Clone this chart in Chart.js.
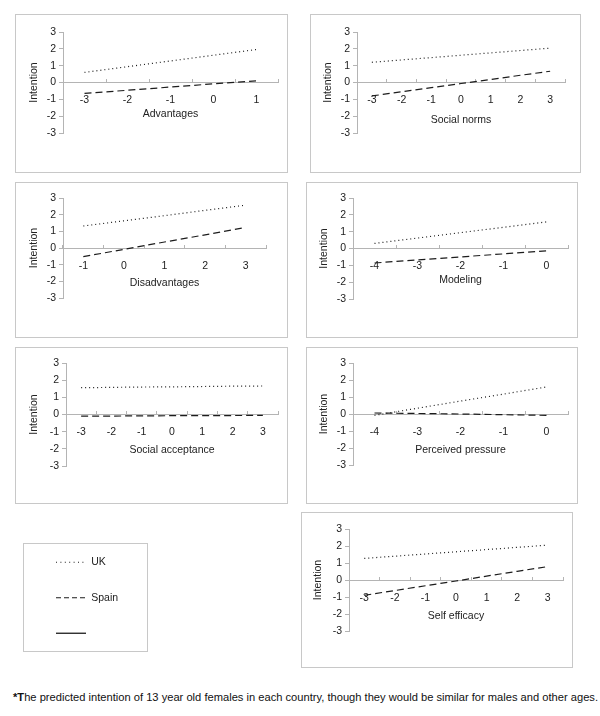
<!DOCTYPE html>
<html>
<head>
<meta charset="utf-8">
<script src="https://cdn.jsdelivr.net/npm/chart.js@4/dist/chart.umd.min.js"></script>
<style>
  body { margin: 0; background: #fff; font-family: "Liberation Sans", Arial, sans-serif; }
  .panel { position: absolute; border: 1px solid #c8c8c8; box-sizing: border-box; }
  .panel canvas { position: absolute; left: -1px; top: -1px; }
  #legendCanvas { position: absolute; }
  #note { position: absolute; left: 13px; top: 690px; font-size: 11.15px; line-height: 14px; color: #111; white-space: nowrap; }
</style>
</head>
<body>
<div id="note"><b>*T</b>he predicted intention of 13 year old females in each country, though they would be similar for males and other ages.</div>
<script>
// values
const advantagesTicks = ['-3', '-2', '-1', '0', '1'];
const advantagesUK = [0.6, 0.94, 1.28, 1.62, 1.96];
const advantagesSpain = [-0.65, -0.46, -0.27, -0.08, 0.1];

const socialNormsTicks = ['-3', '-2', '-1', '0', '1', '2', '3'];
const socialNormsUK = [1.2, 1.34, 1.48, 1.62, 1.76, 1.9, 2.04];
const socialNormsSpain = [-0.8, -0.55, -0.31, -0.06, 0.18, 0.43, 0.67];

const disadvantagesTicks = ['-1', '0', '1', '2', '3'];
const disadvantagesUK = [1.32, 1.63, 1.94, 2.26, 2.57];
const disadvantagesSpain = [-0.52, -0.08, 0.36, 0.79, 1.23];

const modelingTicks = ['-4', '-3', '-2', '-1', '0'];
const modelingUK = [0.3, 0.62, 0.94, 1.26, 1.58];
const modelingSpain = [-0.86, -0.68, -0.5, -0.32, -0.14];

const acceptanceTicks = ['-3', '-2', '-1', '0', '1', '2', '3'];
const acceptanceUK = [1.56, 1.58, 1.6, 1.61, 1.63, 1.65, 1.66];
const acceptanceSpain = [-0.1, -0.09, -0.08, -0.07, -0.06, -0.06, -0.05];

const pressureTicks = ['-4', '-3', '-2', '-1', '0'];
const pressureUK = [-0.08, 0.34, 0.76, 1.17, 1.59];
const pressureSpain = [0.06, 0.03, 0, -0.04, -0.08];

const efficacyTicks = ['-3', '-2', '-1', '0', '1', '2', '3'];
const efficacyUK = [1.27, 1.4, 1.53, 1.66, 1.79, 1.92, 2.05];
const efficacySpain = [-0.9, -0.62, -0.34, -0.06, 0.23, 0.51, 0.79];

const seriesNames = ['UK', 'Spain', ''];

const axisGrey = '#b4b4b4';
const ink = '#1c1c1c';
const textColor = '#222';
const font = { family: '"Liberation Sans", Arial, sans-serif', size: 10.5 };
const tickPad = 15.7;
// where chart.js puts the x title centre (relative to the y=0 line) when title padding is 0
const titleBase = -4 + 12.6 + 12.6 + 2 * tickPad - 6.3;

// box = [left, top, width, height], pad = [yAxisWidth, top, right, bottom]
const panels = [
  { title: 'Advantages', ticks: advantagesTicks, uk: advantagesUK, spain: advantagesSpain, box: [15, 14, 273, 159], pad: [48, 18, 10, 40], yTitle: 19, xTitle: 32 },
  { title: 'Social norms', ticks: socialNormsTicks, uk: socialNormsUK, spain: socialNormsSpain, box: [310, 14, 271, 159], pad: [47, 18, 16, 40], yTitle: 18, xTitle: 38 },
  { title: 'Disadvantages', ticks: disadvantagesTicks, uk: disadvantagesUK, spain: disadvantagesSpain, box: [15, 182, 273, 156], pad: [48, 16, 22, 40], yTitle: 19, xTitle: 35 },
  { title: 'Modeling', ticks: modelingTicks, uk: modelingUK, spain: modelingSpain, box: [306, 182, 272, 156], pad: [47, 16, 10, 39], yTitle: 18, xTitle: 32 },
  { title: 'Social acceptance', ticks: acceptanceTicks, uk: acceptanceUK, spain: acceptanceSpain, box: [15, 347, 273, 157], pad: [51, 16, 10, 38], yTitle: 19, xTitle: 36 },
  { title: 'Perceived pressure', ticks: pressureTicks, uk: pressureUK, spain: pressureSpain, box: [306, 347, 272, 157], pad: [47, 16, 10, 39], yTitle: 18, xTitle: 36 },
  { title: 'Self efficacy', ticks: efficacyTicks, uk: efficacyUK, spain: efficacySpain, box: [301, 512, 272, 156], pad: [48, 17, 10, 37], yTitle: 17, xTitle: 36 }
];

function makePanel(p) {
  const box = document.createElement('div');
  box.className = 'panel';
  box.style.left = p.box[0] + 'px';
  box.style.top = p.box[1] + 'px';
  box.style.width = p.box[2] + 'px';
  box.style.height = p.box[3] + 'px';
  const cv = document.createElement('canvas');
  cv.width = p.box[2];
  cv.height = p.box[3];
  box.appendChild(cv);
  document.body.appendChild(box);

  new Chart(cv, {
    type: 'line',
    data: {
      labels: p.ticks,
      datasets: [
        { label: seriesNames[0], data: p.uk, borderColor: ink, borderWidth: 1.2, borderDash: [1, 3], pointRadius: 0, tension: 0, fill: false },
        { label: seriesNames[1], data: p.spain, borderColor: ink, borderWidth: 1.2, borderDash: [7, 4], pointRadius: 0, tension: 0, fill: false }
      ]
    },
    options: {
      responsive: false,
      animation: false,
      events: [],
      layout: { padding: { left: 0, top: p.pad[1], right: p.pad[2], bottom: p.pad[3] } },
      plugins: { legend: { display: false }, tooltip: { enabled: false } },
      scales: {
        x: {
          type: 'category',
          offset: true,
          position: { y: 0 },
          grid: { offset: true, drawOnChartArea: false, tickLength: -4, color: axisGrey },
          border: { color: axisGrey },
          ticks: { padding: tickPad, color: textColor, font: font, maxRotation: 0, autoSkip: false },
          title: { display: true, text: p.title, color: textColor, font: font, padding: { top: p.xTitle - titleBase, bottom: 0 } }
        },
        y: {
          min: -3,
          max: 3,
          ticks: { stepSize: 1, padding: 3, color: textColor, font: font },
          grid: { drawOnChartArea: false, tickLength: 4, color: axisGrey },
          border: { color: axisGrey },
          title: { display: true, text: 'Intention', color: textColor, font: font, padding: { top: p.yTitle - 6.3, bottom: 0 } },
          afterFit: s => { s.width = p.pad[0]; }
        }
      }
    }
  });
}

panels.forEach(makePanel);

// legend box
const legendBox = document.createElement('div');
legendBox.className = 'panel';
legendBox.style.left = '23px';
legendBox.style.top = '543px';
legendBox.style.width = '125px';
legendBox.style.height = '109px';
document.body.appendChild(legendBox);

const legendCanvas = document.createElement('canvas');
legendCanvas.id = 'legendCanvas';
legendCanvas.width = 125;
legendCanvas.height = 140;
legendCanvas.style.left = '23px';
legendCanvas.style.top = '532px';
document.body.appendChild(legendCanvas);

new Chart(legendCanvas, {
  type: 'line',
  data: {
    labels: [],
    datasets: [
      { label: seriesNames[0], data: [], borderColor: ink, borderWidth: 1.2, borderDash: [1, 3.4] },
      { label: seriesNames[1], data: [], borderColor: ink, borderWidth: 1.2, borderDash: [5, 3] },
      { label: seriesNames[2], data: [], borderColor: ink, borderWidth: 1.3, borderDash: [] }
    ]
  },
  options: {
    responsive: false,
    animation: false,
    events: [],
    layout: { padding: { left: 8, top: 0, right: 0, bottom: 0 } },
    scales: { x: { display: false }, y: { display: false } },
    plugins: {
      tooltip: { enabled: false },
      legend: {
        position: 'chartArea',
        align: 'start',
        labels: {
          usePointStyle: true,
          pointStyle: 'line',
          pointStyleWidth: 30,
          padding: 25,
          color: textColor,
          font: font,
          generateLabels: chart => chart.data.datasets.map((ds, i) => ({
            text: ds.label,
            fontColor: textColor,
            fillStyle: 'transparent',
            strokeStyle: ds.borderColor,
            lineWidth: ds.borderWidth,
            lineDash: ds.borderDash,
            pointStyle: 'line',
            hidden: false,
            datasetIndex: i
          }))
        }
      }
    }
  }
});
</script>
</body>
</html>
